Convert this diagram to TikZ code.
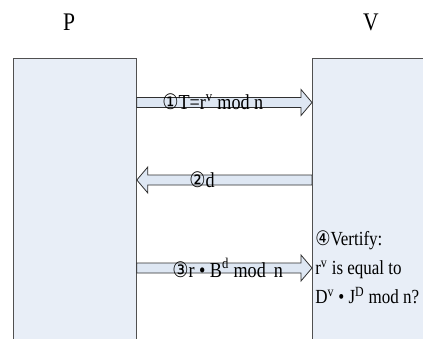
\documentclass[tikz,border=0pt]{standalone}
\usepackage{fontspec}
\setmainfont[FakeStretch=0.85]{Liberation Serif}
\newfontfamily\circfont[FakeStretch=0.85]{DejaVu Sans}
\usepackage{tikz}
\usetikzlibrary{calc,positioning}
\definecolor{partyfill}{HTML}{E8EEF7}
\definecolor{partyline}{HTML}{505050}
\definecolor{msgfill}{HTML}{DEE7F3}
\definecolor{msgline}{HTML}{303030}
\tikzset{
  partybox/.style={draw=partyline, fill=partyfill, line width=0.6pt, inner sep=0pt, anchor=north west},
  partyname/.style={font=\fontsize{19}{21}\selectfont, inner sep=0pt},
  msgtext/.style={font=\fontsize{16}{18}\selectfont, inner sep=0pt, anchor=west},
  flowarrow/.style={draw=msgline, fill=msgfill, line width=0.6pt, line join=miter}
}
% block arrow from #1 to #2 (tip at #2)
\newcommand{\flowarrow}[2]{%
  \draw[flowarrow] ($(#1)+(0,-5)$) -- ($(#2)!8.25pt!(#1)+(0,-5)$)
    -- ($(#2)!8.25pt!(#1)+(0,-13)$) -- (#2) -- ($(#2)!8.25pt!(#1)+(0,13)$)
    -- ($(#2)!8.25pt!(#1)+(0,5)$) -- ($(#1)+(0,5)$) -- cycle;}
\newcommand{\cnum}[1]{{\circfont #1}}

\begin{document}
\begin{tikzpicture}[x=0.75pt, y=-0.75pt]
  \clip (0,0) rectangle (423,338);
  \fill[white] (0,0) rectangle (423,338);
  % parties
  \node[partyname] (pname) at (69,22) {P};
  \node[partyname] (vname) at (371,22) {V};
  \node[partybox, minimum width=92.25pt, minimum height=225pt] (pbox) at (13,58) {};
  \node[partybox, minimum width=112.5pt, minimum height=225pt] (vbox) at (312,58) {};
  % message ends
  \coordinate (p1) at (pbox.east |- 0,102.5);
  \coordinate (v1) at (vbox.west |- 0,102.5);
  \coordinate (p2) at (pbox.east |- 0,180);
  \coordinate (v2) at (vbox.west |- 0,180);
  \coordinate (p3) at (pbox.east |- 0,268);
  \coordinate (v3) at (vbox.west |- 0,268);
  \flowarrow{p1}{v1}
  \flowarrow{v2}{p2}
  \flowarrow{p3}{v3}
  % messages
  \node[msgtext] (m1) at (162,102) {\cnum{①}T=r\textsuperscript{v} mod n};
  \node[msgtext] (m2) at (189,180) {\cnum{②}d};
  \node[msgtext] (m3) at (172,268) {\cnum{③}r • B\textsuperscript{d} mod\, n};
  \node[msgtext, align=left, font=\fontsize{15}{21.75}\selectfont] (check) at (315,267)
    {\cnum{④}Vertify:\\r\textsuperscript{v} is equal to\\D\textsuperscript{v} • J\textsuperscript{D} mod n?};
\end{tikzpicture}
\end{document}
